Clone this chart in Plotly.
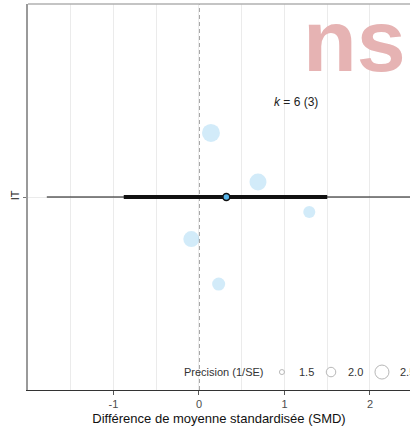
import plotly.graph_objects as go

# ---- data ----
study_smd = [0.14, 0.69, 1.29, -0.09, 0.23]
study_jitter = [0.332, 0.078, -0.078, -0.218, -0.451]
study_precision = [2.94, 2.83, 2.28, 2.72, 2.39]

pooled_est = 0.32
ci_low, ci_high = -0.88, 1.50
pi_low, pi_high = -1.78, 2.70

legend_precision = [1.5, 2.0, 2.5]
legend_labels = ["1.5", "2.0", "2.5"]
x_tick_vals = [-1, 0, 1, 2]
x_tick_text = ["-1", "0", "1", "2"]
group_label = "IT"
k_text = "<i>k</i> = 6 (3)"


def psize(p):
    return 5 + 9 * (p - 1.5)


FONT = "Liberation Sans, Arial, sans-serif"

fig = go.Figure()

# prediction interval (thin)
fig.add_trace(go.Scatter(x=[pi_low, pi_high], y=[0, 0], mode="lines",
                         line=dict(color="#111111", width=1.2), hoverinfo="skip"))
# confidence interval (thick)
fig.add_trace(go.Scatter(x=[ci_low, ci_high], y=[0, 0], mode="lines",
                         line=dict(color="#111111", width=4), hoverinfo="skip"))
# study points
fig.add_trace(go.Scatter(x=study_smd, y=study_jitter, mode="markers",
                         marker=dict(size=[psize(p) for p in study_precision],
                                     color="rgba(86,180,233,0.38)", line=dict(width=0))))
# pooled estimate
fig.add_trace(go.Scatter(x=[pooled_est], y=[0], mode="markers",
                         marker=dict(size=7, color="#56B4E9",
                                     line=dict(color="#111111", width=1.6))))

# size legend (in data space near bottom)
leg_y = -0.907
leg_x = [0.97, 1.544, 2.14]
fig.add_trace(go.Scatter(x=leg_x, y=[leg_y] * 3, mode="markers", cliponaxis=False,
                         marker=dict(size=[psize(p) for p in legend_precision],
                                     color="white", line=dict(color="#9a9a9a", width=1))))
lab_x = [1.26, 1.825, 2.33]
for lx, lt in zip(lab_x, legend_labels):
    fig.add_annotation(x=lx, y=leg_y, text=lt, showarrow=False, xanchor="center" if lt != "2.5" else "left",
                       font=dict(family=FONT, size=11, color="#333333"))
fig.add_annotation(x=0.77, y=leg_y, text="Precision (1/SE)", showarrow=False, xanchor="right",
                   font=dict(family=FONT, size=11, color="#333333"))

# k annotation
fig.add_annotation(x=1.13, y=0.49, text=k_text, showarrow=False,
                   font=dict(family=FONT, size=12, color="#222222"))

# zero line dashed
fig.add_shape(type="line", x0=0, x1=0, y0=0, y1=1, xref="x", yref="paper",
              line=dict(color="#8a8a8a", width=1.5, dash="4px,3px"), layer="below")
# top border
fig.add_shape(type="line", x0=0, x1=1, y0=1, y1=1, xref="paper", yref="paper",
              line=dict(color="#b0b0b0", width=1.5))

# watermark
fig.add_annotation(x=0.855, y=0.905, xref="paper", yref="paper", text="ns", showarrow=False,
                   xanchor="center", yanchor="middle",
                   font=dict(family="Liberation Sans Narrow, Arial Narrow, sans-serif", size=88,
                             color="#e6b3b3", weight="bold"))

fig.update_layout(
    width=410, height=428,
    margin=dict(l=28, r=0, t=4, b=38),
    paper_bgcolor="white", plot_bgcolor="white",
    showlegend=False,
    font=dict(family=FONT, color="#333333"),
    xaxis=dict(range=[-2.0, 2.468], tickvals=x_tick_vals, ticktext=x_tick_text,
               showgrid=True, gridcolor="#ebebeb", gridwidth=1,
               minor=dict(dtick=0.5, tick0=0, showgrid=True, gridcolor="#ebebeb", gridwidth=1),
               showline=True, linecolor="#333333", linewidth=1,
               ticks="outside", ticklen=4, tickcolor="#555555",
               tickfont=dict(family=FONT, size=11, color="#4d4d4d"),
               title=dict(text="Différence de moyenne standardisée (SMD)", standoff=4,
                          font=dict(family=FONT, size=13, color="#111111")),
               zeroline=False),
    yaxis=dict(range=[-1, 1], tickvals=[0], ticktext=[group_label], tickangle=-90,
               showgrid=True, gridcolor="#ebebeb",
               showline=True, linecolor="#9a9a9a", linewidth=1.5,
               ticks="outside", ticklen=3, tickcolor="#777777",
               tickfont=dict(family=FONT, size=11, color="#222222"),
               zeroline=False),
)

fig.write_html("out.html")
